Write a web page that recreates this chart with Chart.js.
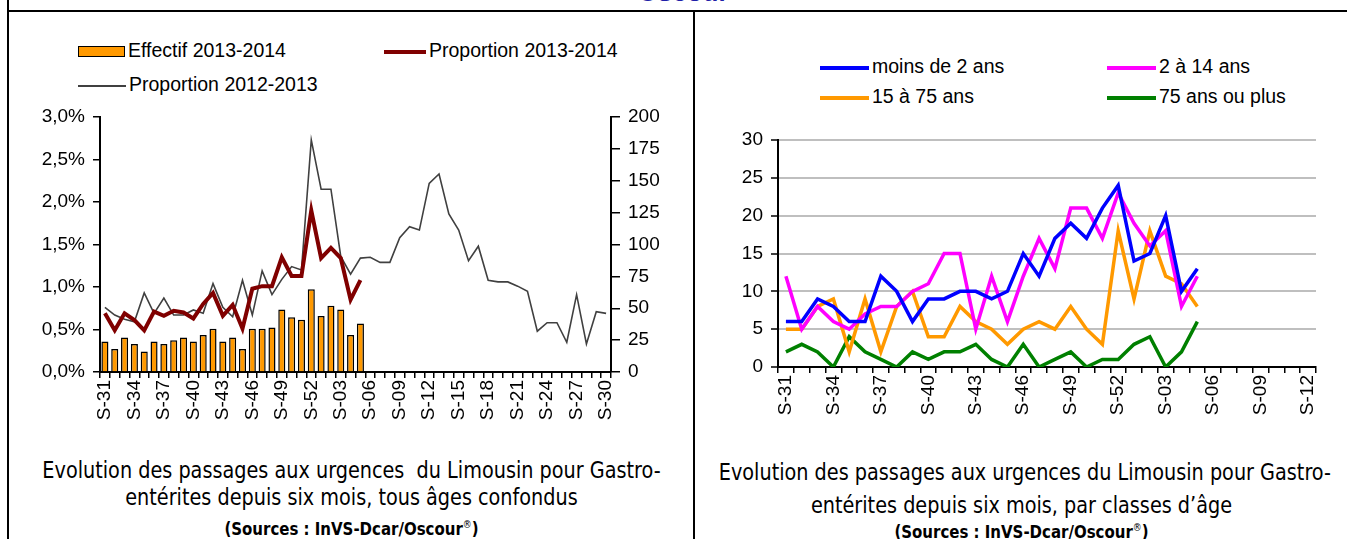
<!DOCTYPE html>
<html lang="fr">
<head>
<meta charset="UTF-8">
<title>Gastro-entérites Limousin</title>
<script src="https://cdn.jsdelivr.net/npm/chart.js"></script>
<style>
    body { margin: 0; background: #fff; width: 1347px; height: 539px; overflow: hidden; position: relative; font-family: "Liberation Sans", Arial, sans-serif; }
    .rule { position: absolute; background: #000; }
    .top-title { position: absolute; top: -23px; left: 633px; width: 100px; text-align: center; color: #1f1fa8; font-weight: bold; font-size: 26px; }
    .leg { position: absolute; font-family: "Liberation Sans", sans-serif; font-size: 19.5px; white-space: nowrap; line-height: 20px; }
    .leg i { display: inline-block; vertical-align: middle; margin-right: 3px; }
    .cap { position: absolute; text-align: center; white-space: nowrap; font-family: "DejaVu Sans Condensed", "Liberation Sans", sans-serif; font-size: 23px; line-height: 26px; color: #000; transform: scaleX(0.93); }
    .cap.src { font-size: 18.5px; font-weight: bold; transform: scaleX(0.9); }
    .cap sup { font-size: 11px; font-weight: normal; }
    .box { position: absolute; }
</style>
</head>
<body>
    <!-- frame -->
    <div class="top-title">Oscour</div>
    <div class="rule" style="left:7px; top:10px; width:1340px; height:2px;"></div>
    <div class="rule" style="left:7px; top:0; width:2px; height:539px;"></div>
    <div class="rule" style="left:693px; top:10px; width:2px; height:529px;"></div>

    <!-- left legend -->
    <div class="leg" style="left:78px; top:40px;"><i style="width:45px; height:9px; background:#ff9900; border:1.5px solid #000;"></i>Effectif 2013-2014</div>
    <div class="leg" style="left:384px; top:40px;"><i style="width:42px; height:4px; background:#800000;"></i>Proportion 2013-2014</div>
    <div class="leg" style="left:78px; top:74px;"><i style="width:48px; height:2px; background:#404040;"></i>Proportion 2012-2013</div>

    <!-- right legend -->
    <div class="leg" style="left:820px; top:56px;"><i style="width:49px; height:4px; background:#0000ff;"></i>moins de 2 ans</div>
    <div class="leg" style="left:1107px; top:56px;"><i style="width:49px; height:4px; background:#ff00ff;"></i>2 à 14 ans</div>
    <div class="leg" style="left:820px; top:86px;"><i style="width:49px; height:4px; background:#ff9900;"></i>15 à 75 ans</div>
    <div class="leg" style="left:1107px; top:86px;"><i style="width:49px; height:4px; background:#008000;"></i>75 ans ou plus</div>

    <div class="box" style="left:10px; top:12px;"><canvas id="chartAll" width="683" height="430"></canvas></div>
    <div class="box" style="left:696px; top:12px;"><canvas id="chartAge" width="651" height="430"></canvas></div>

    <!-- captions -->
    <div class="cap" style="left:10px; top:457px; width:683px;">Evolution des passages aux urgences&nbsp; du Limousin pour Gastro-</div>
    <div class="cap" style="left:10px; top:484px; width:683px;">entérites depuis six mois, tous âges confondus</div>
    <div class="cap src" style="left:10px; top:512px; width:683px;">(Sources : InVS-Dcar/Oscour<sup>®</sup>)</div>
    <div class="cap" style="left:696px; top:459px; width:651px;">Evolution des passages aux urgences du Limousin pour Gastro-</div>
    <div class="cap" style="left:696px; top:492px; width:651px;">entérites depuis six mois, par classes d’âge</div>
    <div class="cap src" style="left:696px; top:515px; width:651px;">(Sources : InVS-Dcar/Oscour<sup>®</sup>)</div>

    <script>
        // weeks S-31 (2013) .. S-30 (2014)
        const weeks = ['S-31','S-32','S-33','S-34','S-35','S-36','S-37','S-38','S-39','S-40','S-41','S-42','S-43','S-44','S-45','S-46','S-47','S-48','S-49','S-50','S-51','S-52',
                       'S-01','S-02','S-03','S-04','S-05','S-06','S-07','S-08','S-09','S-10','S-11','S-12','S-13','S-14','S-15','S-16','S-17','S-18','S-19','S-20',
                       'S-21','S-22','S-23','S-24','S-25','S-26','S-27','S-28','S-29','S-30'];
        const ageWeeks = weeks.slice(0, 34); // S-31 .. S-12

        // left chart
        const effectif2014 = [24, 18, 27, 22, 16, 24, 22, 25, 27, 24, 29, 34, 24, 27, 18, 34, 34, 35, 49, 43, 41, 65, 44, 52, 49, 29, 38];
        const proportion2014 = [0.69, 0.49, 0.69, 0.61, 0.49, 0.71, 0.66, 0.72, 0.70, 0.63, 0.80, 0.93, 0.66, 0.79, 0.51, 0.98, 1.01, 1.01, 1.35, 1.13, 1.13, 1.90, 1.34, 1.46, 1.34, 0.85, 1.08];
        const proportion2013 = [0.76, 0.67, 0.62, 0.59, 0.93, 0.69, 0.87, 0.67, 0.67, 0.73, 0.69, 1.04, 0.76, 0.65, 1.08, 0.67, 1.19, 0.91, 1.09, 1.24,
                                1.20, 2.73, 2.15, 2.15, 1.36, 1.15, 1.34, 1.35, 1.29, 1.29, 1.58, 1.71, 1.67, 2.22, 2.33, 1.86, 1.67, 1.31, 1.48, 1.08,
                                1.06, 1.06, 1.01, 0.95, 0.48, 0.58, 0.58, 0.35, 0.91, 0.33, 0.71, 0.69];

        // right chart
        const moins2 = [6, 6, 9, 8, 6, 6, 12, 10, 6, 9, 9, 10, 10, 9, 10, 15, 12, 17, 19, 17, 21, 24, 14, 15, 20, 10, 13];
        const de2a14 = [12, 5, 8, 6, 5, 7, 8, 8, 10, 11, 15, 15, 5, 12, 6, 12, 17, 13, 21, 21, 17, 23, 19, 16, 18, 8, 12];
        const de15a75 = [5, 5, 8, 9, 2, 9, 2, 8, 10, 4, 4, 8, 6, 5, 3, 5, 6, 5, 8, 5, 3, 18, 9, 18, 12, 11, 8];
        const plus75 = [2, 3, 2, 0, 4, 2, 1, 0, 2, 1, 2, 2, 3, 1, 0, 3, 0, 1, 2, 0, 1, 1, 3, 4, 0, 2, 6];

        const tickFont = { family: '"Liberation Sans", Arial, sans-serif', size: 19 };

        function xAxis(labels, height) {
            return {
                type: 'category',
                labels: labels,
                offset: true,
                grid: { offset: true, drawOnChartArea: false, drawTicks: true, tickLength: 6, color: '#000', lineWidth: 1.5 },
                border: { display: true, color: '#000', width: 2 },
                ticks: {
                    autoSkip: false, minRotation: 90, maxRotation: 90, padding: 2, color: '#000', font: tickFont,
                    callback: (v, i) => i % 3 === 0 ? labels[i] : ''
                },
                afterFit: s => { s.height = height; }
            };
        }

        new Chart(document.getElementById('chartAll'), {
            data: {
                labels: weeks,
                datasets: [
                    { type: 'line', label: 'Proportion 2012-2013', data: proportion2013, yAxisID: 'yp', borderColor: '#404040', borderWidth: 1.6, pointRadius: 0, tension: 0, order: 1 },
                    { type: 'line', label: 'Proportion 2013-2014', data: proportion2014, yAxisID: 'yp', borderColor: '#800000', borderWidth: 4, pointRadius: 0, tension: 0, order: 0 },
                    { type: 'bar', label: 'Effectif 2013-2014', data: effectif2014, yAxisID: 'ye', backgroundColor: '#ff9900', borderColor: '#000', borderWidth: 1.5, barPercentage: 0.72, categoryPercentage: 1, order: 2 }
                ]
            },
            options: {
                responsive: false,
                animation: false,
                layout: { padding: { top: 105, bottom: 0, left: 0, right: 0 } },
                plugins: { legend: { display: false }, tooltip: { enabled: false } },
                scales: {
                    x: xAxis(weeks, 70),
                    yp: {
                        position: 'left', min: 0, max: 3,
                        grid: { drawOnChartArea: false, tickLength: 7, color: '#000', lineWidth: 1.5 },
                        border: { color: '#000', width: 2 },
                        ticks: { stepSize: 0.5, color: '#000', font: tickFont, padding: 8,
                                 callback: v => v.toFixed(1).replace('.', ',') + '%' },
                        afterFit: s => { s.width = 90; }
                    },
                    ye: {
                        position: 'right', min: 0, max: 200,
                        grid: { drawOnChartArea: false, tickLength: 9, color: '#000', lineWidth: 1.5 },
                        border: { color: '#000', width: 2 },
                        ticks: { stepSize: 25, color: '#000', font: tickFont, padding: 8 },
                        afterFit: s => { s.width = 82; }
                    }
                }
            }
        });

        const ageLine = (label, data, color) => ({ label: label, data: data, borderColor: color, borderWidth: 3.5, pointRadius: 0, tension: 0 });

        new Chart(document.getElementById('chartAge'), {
            type: 'line',
            data: {
                labels: ageWeeks,
                datasets: [
                    ageLine('moins de 2 ans', moins2, '#0000ff'),
                    ageLine('2 à 14 ans', de2a14, '#ff00ff'),
                    ageLine('15 à 75 ans', de15a75, '#ff9900'),
                    ageLine('75 ans ou plus', plus75, '#008000')
                ]
            },
            options: {
                responsive: false,
                animation: false,
                layout: { padding: { top: 128, bottom: 0, left: 0, right: 31 } },
                plugins: { legend: { display: false }, tooltip: { enabled: false } },
                scales: {
                    x: xAxis(ageWeeks, 75),
                    y: {
                        min: 0, max: 30,
                        grid: { color: '#bfbfbf', lineWidth: 2, tickLength: 7, tickColor: '#000', tickWidth: 1.5 },
                        border: { color: '#000', width: 2 },
                        ticks: { stepSize: 5, color: '#000', font: tickFont, padding: 8 },
                        afterFit: s => { s.width = 82; }
                    }
                }
            }
        });
    </script>
</body>
</html>
